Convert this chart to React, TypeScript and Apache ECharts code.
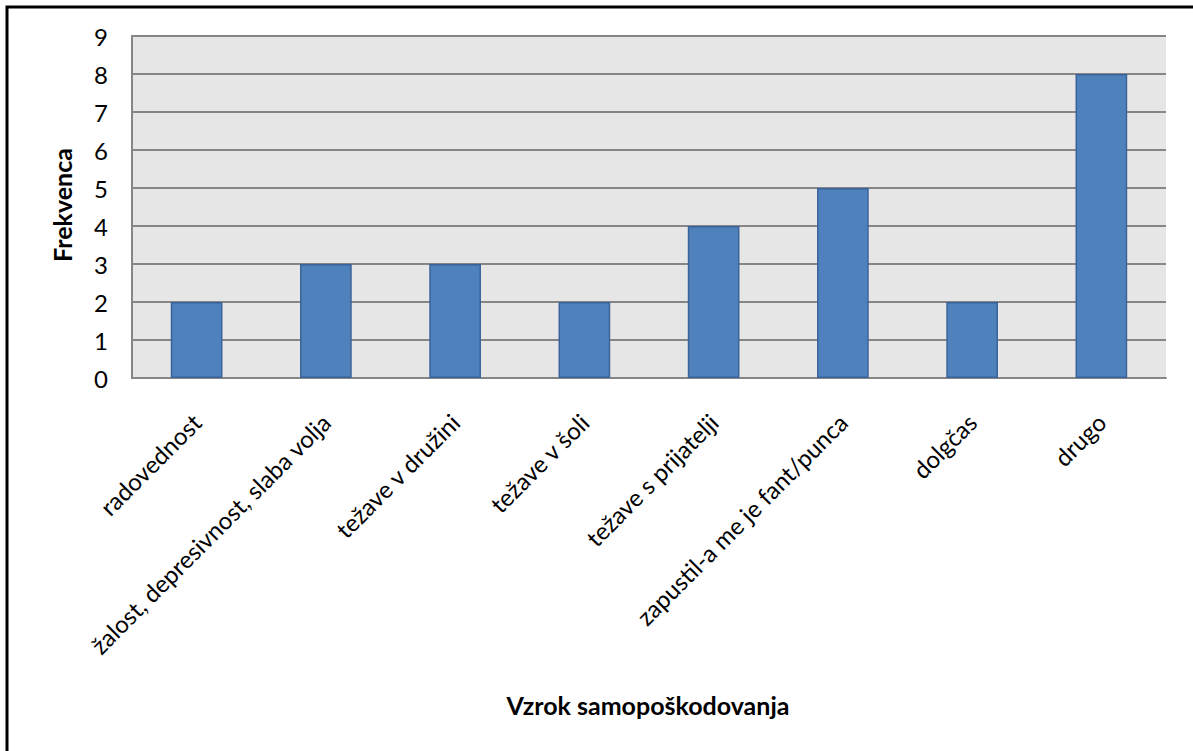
import React, { useEffect, useRef } from "react";
import * as echarts from "echarts";

const categories = [
  "radovednost",
  "žalost, depresivnost, slaba volja",
  "težave v družini",
  "težave v šoli",
  "težave s prijatelji",
  "zapustil-a me je fant/punca",
  "dolgčas",
  "drugo",
];
const frequencies = [2, 3, 3, 2, 4, 5, 2, 8];
const yTitle = "Frekvenca";
const xTitle = "Vzrok samopoškodovanja";

const FONT = "Lato, 'Open Sans', sans-serif";

export default function App() {
  const ref = useRef<HTMLDivElement>(null);
  useEffect(() => {
    if (!ref.current) return;
    const chart = echarts.init(ref.current, undefined, { renderer: "svg" });
    chart.setOption({
      animation: false,
      backgroundColor: "#ffffff",
      textStyle: { fontFamily: FONT },
      grid: { left: 132, right: 27, top: 36, bottom: 373, containLabel: false },
      graphic: [
        {
          type: "rect",
          shape: { x: 7, y: 7, width: 1300, height: 1000 },
          style: { fill: "none", stroke: "#000000", lineWidth: 3 },
          z: 100,
        },
        {
          type: "text",
          x: 648,
          y: 705,
          style: {
            text: xTitle,
            font: `bold 25px ${FONT}`,
            fill: "#000000",
            align: "center",
            verticalAlign: "middle",
          },
        },
        {
          type: "text",
          x: 62,
          y: 205,
          rotation: Math.PI / 2,
          style: {
            text: yTitle,
            font: `bold 25px ${FONT}`,
            fill: "#000000",
            align: "center",
            verticalAlign: "middle",
          },
        },
      ],
      xAxis: {
        type: "category",
        data: categories,
        axisLine: { show: true, lineStyle: { color: "#868686", width: 2 } },
        axisTick: { show: false },
        splitArea: { show: false },
        axisLabel: {
          rotate: 45,
          interval: 0,
          margin: 40,
          color: "#000000",
          fontSize: 24,
          fontFamily: FONT,
        },
      },
      yAxis: {
        type: "value",
        min: 0,
        max: 9,
        interval: 1,
        axisLine: { show: true, lineStyle: { color: "#868686", width: 2 } },
        axisTick: { show: false },
        axisLabel: { color: "#000000", fontSize: 24, margin: 24, fontFamily: FONT },
        splitLine: { show: true, lineStyle: { color: "#868686", width: 2 } },
        splitArea: { show: true, areaStyle: { color: ["#e6e6e6", "#e6e6e6"] } },
      },
      series: [
        {
          type: "bar",
          data: frequencies,
          barWidth: "40%",
          itemStyle: { color: "#4f81bd", borderColor: "#3a639a", borderWidth: 1.5 },
        },
      ],
    });
    return () => chart.dispose();
  }, []);
  return (
    <div
      ref={ref}
      style={{ position: "fixed", left: 0, top: 0, width: 1193, height: 751 }}
    />
  );
}
